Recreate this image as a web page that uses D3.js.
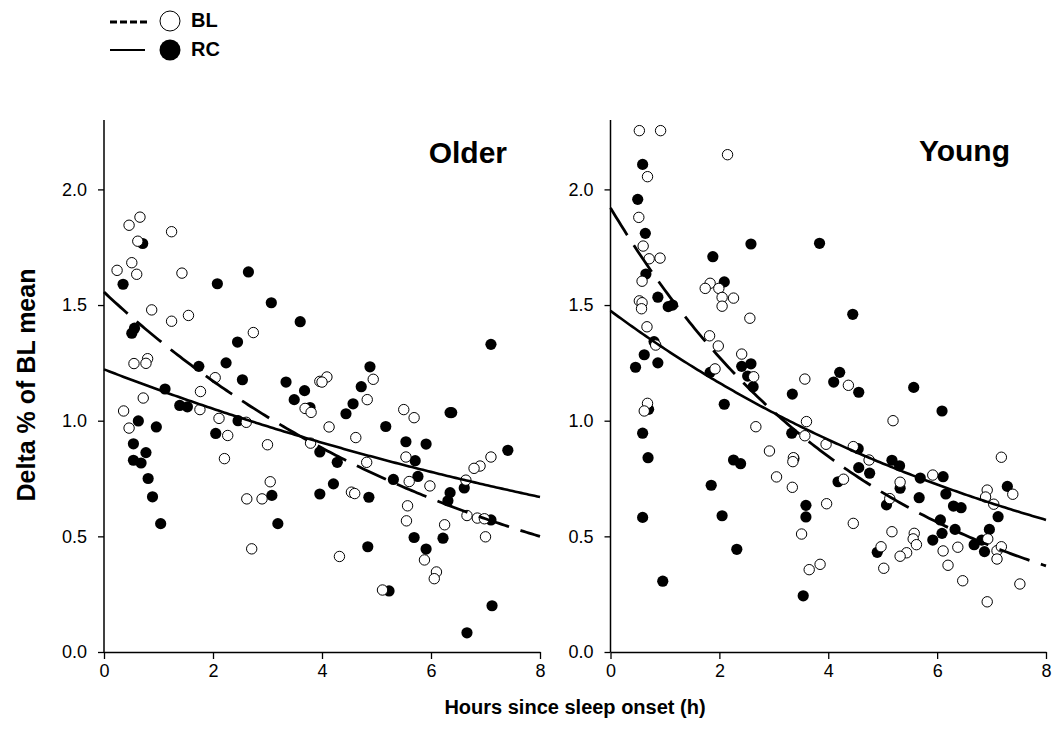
<!DOCTYPE html>
<html>
<head>
<meta charset="utf-8">
<script src="https://cdn.jsdelivr.net/npm/d3@7"></script>
<style>
  html, body { margin: 0; padding: 0; background: #fff; }
  svg { display: block; font-family: Arial, "Liberation Sans", sans-serif; }
</style>
</head>
<body>
<svg id="chart" width="1052" height="753"></svg>
<script>
// ---------- DATA ----------
const xTicks = [0, 2, 4, 6, 8];
const yTicks = [0.0, 0.5, 1.0, 1.5, 2.0];
const panelTitles = ["Older", "Young"];
const seriesNames = ["BL", "RC"];

// Older, baseline (open circles): [hours, delta]
const olderBL = [
  [0.46,1.845],[0.66,1.88],[1.24,1.817],[0.62,1.776],[0.24,1.65],[0.51,1.683],[0.60,1.633],
  [1.43,1.638],[0.875,1.479],[1.24,1.43],[1.55,1.455],[2.74,1.381],[0.55,1.247],[0.80,1.268],
  [0.77,1.248],[2.04,1.186],[0.72,1.098],[1.77,1.126],[0.36,1.042],[1.76,1.048],[2.11,1.01],
  [2.61,0.993],[0.46,0.968],[3.69,1.053],[3.80,1.036],[3.96,1.17],[4.09,1.189],[4.0,1.167],
  [4.94,1.179],[4.83,1.091],[5.50,1.048],[5.69,1.013],[4.13,0.973],[2.27,0.936],[2.21,0.836],
  [3.00,0.896],[3.05,0.736],[2.62,0.662],[2.90,0.662],[2.71,0.446],[3.79,0.903],[4.62,0.927],
  [4.82,0.82],[5.54,0.843],[5.60,0.737],[5.98,0.718],[4.54,0.691],[4.60,0.685],[5.57,0.632],
  [5.55,0.567],[6.25,0.55],[7.10,0.843],[6.90,0.804],[6.79,0.794],[6.64,0.743],[6.66,0.59],
  [6.85,0.579],[6.98,0.576],[7.0,0.498],[4.32,0.413],[5.88,0.398],[6.10,0.346],[6.06,0.317],
  [5.11,0.268]
];
// Older, recovery (filled circles)
const olderRC = [
  [0.71,1.766],[0.35,1.59],[2.08,1.592],[2.65,1.643],[3.07,1.51],[3.60,1.428],[0.56,1.40],
  [0.51,1.378],[2.45,1.34],[1.74,1.235],[2.24,1.25],[2.54,1.177],[3.34,1.167],[3.68,1.13],
  [3.49,1.091],[1.12,1.137],[1.39,1.066],[1.53,1.06],[2.46,1.0],[0.63,0.999],[0.96,0.973],
  [2.05,0.945],[3.78,1.057],[7.10,1.33],[4.88,1.233],[4.72,1.147],[4.57,1.073],[4.44,1.03],
  [5.17,0.975],[6.35,1.035],[6.38,1.035],[0.54,0.90],[0.77,0.862],[0.54,0.829],[0.68,0.817],
  [0.81,0.75],[0.89,0.671],[1.04,0.555],[3.08,0.677],[3.19,0.555],[3.96,0.865],[3.96,0.683],
  [5.54,0.909],[5.91,0.899],[7.41,0.872],[4.28,0.82],[5.71,0.827],[5.76,0.759],[5.31,0.746],
  [4.21,0.727],[4.86,0.669],[6.35,0.689],[6.31,0.654],[6.61,0.709],[7.10,0.571],[5.69,0.495],
  [6.22,0.492],[5.91,0.445],[4.84,0.455],[5.23,0.264],[7.12,0.20],[6.66,0.083]
];
// Young, baseline (open circles)
const youngBL = [
  [0.53,2.254],[0.92,2.254],[2.15,2.15],[0.68,2.055],[0.52,1.879],[0.60,1.755],[0.71,1.70],
  [0.91,1.703],[0.58,1.603],[0.53,1.518],[0.58,1.51],[0.57,1.484],[1.83,1.594],[1.74,1.572],
  [1.99,1.572],[2.05,1.533],[2.26,1.53],[2.05,1.495],[2.56,1.443],[0.67,1.406],[0.83,1.327],
  [1.82,1.367],[1.98,1.323],[2.41,1.288],[1.92,1.224],[2.63,1.19],[3.57,1.18],[0.68,1.075],
  [0.62,1.042],[2.67,0.974],[3.60,0.996],[3.57,0.935],[2.92,0.869],[3.36,0.84],[3.35,0.823],
  [3.05,0.757],[3.34,0.712],[3.51,0.51],[3.65,0.356],[3.85,0.379],[4.37,1.153],[3.96,0.898],
  [4.46,0.888],[4.75,0.83],[5.19,1.0],[4.28,0.747],[5.32,0.734],[5.13,0.663],[5.92,0.765],
  [3.97,0.641],[4.46,0.556],[5.17,0.52],[5.58,0.513],[5.56,0.489],[5.62,0.464],[5.44,0.429],
  [5.32,0.414],[4.97,0.455],[5.02,0.362],[7.18,0.842],[7.39,0.682],[6.92,0.70],[6.89,0.67],
  [7.04,0.639],[6.11,0.437],[6.38,0.453],[6.20,0.375],[6.47,0.308],[6.93,0.489],[7.10,0.438],
  [7.18,0.455],[7.10,0.402],[7.52,0.294],[6.92,0.217]
];
// Young, recovery (filled circles)
const youngRC = [
  [0.59,2.108],[0.50,1.957],[0.64,1.81],[2.58,1.764],[3.84,1.767],[1.88,1.709],[0.65,1.634],
  [2.09,1.60],[0.87,1.534],[1.06,1.493],[1.14,1.50],[4.45,1.46],[0.80,1.342],[0.62,1.285],
  [0.46,1.231],[0.87,1.25],[1.83,1.209],[2.41,1.235],[2.58,1.246],[2.52,1.193],[2.62,1.147],
  [3.34,1.115],[2.09,1.071],[0.70,1.049],[0.59,0.946],[3.33,0.946],[0.69,0.84],[2.26,0.83],
  [2.39,0.814],[3.37,0.837],[1.85,0.721],[3.59,0.634],[3.59,0.584],[0.59,0.582],[2.05,0.589],
  [2.32,0.444],[0.96,0.306],[3.54,0.243],[4.21,1.209],[4.10,1.167],[4.56,1.123],[5.57,1.144],
  [6.09,1.042],[4.55,0.879],[4.56,0.797],[4.76,0.773],[5.17,0.829],[5.31,0.805],[4.18,0.736],
  [5.32,0.708],[5.69,0.752],[6.11,0.758],[6.16,0.683],[5.67,0.667],[5.07,0.636],[6.30,0.631],
  [6.44,0.624],[7.29,0.716],[7.12,0.585],[6.06,0.571],[6.33,0.53],[6.09,0.513],[5.92,0.484],
  [6.96,0.53],[6.82,0.484],[6.68,0.464],[6.87,0.434],[4.90,0.431]
];
// Exponential decay fits y = a * exp(-b * x): [a, b]
const olderBLFit = [1.556, 0.142];
const olderRCFit = [1.222, 0.0751];
const youngBLFit = [1.92, 0.205];
const youngRCFit = [1.475, 0.1186];

// ---------- DRAW ----------
const svg = d3.select("#chart");
const font = 'Arial, "Liberation Sans", sans-serif';

const yScale = d3.scaleLinear().domain([0, 2.3]).range([652, 120]);
const panels = [
  { title: panelTitles[0], bl: olderBL, rc: olderRC, blFit: olderBLFit, rcFit: olderRCFit,
    x: d3.scaleLinear().domain([0, 8]).range([104, 540]), titleX: 507, titleY: 163 },
  { title: panelTitles[1], bl: youngBL, rc: youngRC, blFit: youngBLFit, rcFit: youngRCFit,
    x: d3.scaleLinear().domain([0, 8]).range([610.5, 1046]), titleX: 1010, titleY: 161 }
];

panels.forEach(p => {
  const g = svg.append("g");
  const xAxis = d3.axisBottom(p.x).tickValues(xTicks).tickFormat(d3.format("d"))
    .tickSizeInner(7).tickSizeOuter(0).tickPadding(5);
  const yAxis = d3.axisLeft(yScale).tickValues(yTicks).tickFormat(d3.format(".1f"))
    .tickSizeInner(6).tickSizeOuter(0).tickPadding(11);

  const gx = g.append("g").attr("transform", "translate(0,652)").call(xAxis);
  const gy = g.append("g").attr("transform", `translate(${p.x(0)},0)`).call(yAxis);
  [gx, gy].forEach(a => {
    a.select(".domain").attr("stroke", "#000").attr("stroke-width", 1.5);
    a.selectAll(".tick line").attr("stroke", "#000").attr("stroke-width", 1.3);
    a.selectAll(".tick text").attr("fill", "#000").style("font-size", "18px").style("font-family", font);
  });
  gy.select(".domain").attr("d", `M0,${yScale(2.3)}V${yScale(0)}`);

  // filled first, then open on top
  g.append("g").selectAll("circle").data(p.rc).join("circle")
    .attr("cx", d => p.x(d[0])).attr("cy", d => yScale(d[1]))
    .attr("r", 5.6).attr("fill", "#000");
  g.append("g").selectAll("circle").data(p.bl).join("circle")
    .attr("cx", d => p.x(d[0])).attr("cy", d => yScale(d[1]))
    .attr("r", 5.2).attr("fill", "#fff").attr("stroke", "#000").attr("stroke-width", 1);

  const xs = d3.range(0, 8.001, 0.05);
  const line = d3.line().x(d => p.x(d[0])).y(d => yScale(d[1]));
  const curve = f => xs.map(x => [x, f[0] * Math.exp(-f[1] * x)]);
  g.append("path").datum(curve(p.rcFit)).attr("d", line)
    .attr("fill", "none").attr("stroke", "#000").attr("stroke-width", 2.6);
  g.append("path").datum(curve(p.blFit)).attr("d", line)
    .attr("fill", "none").attr("stroke", "#000").attr("stroke-width", 2.8)
    .attr("stroke-dasharray", "32,12");

  g.append("text").attr("x", p.titleX).attr("y", p.titleY).attr("text-anchor", "end")
    .style("font-family", font).style("font-weight", "bold").style("font-size", "30px")
    .text(p.title);
});

// axis titles
svg.append("text").attr("x", 575).attr("y", 714).attr("text-anchor", "middle")
  .style("font-family", font).style("font-weight", "bold").style("font-size", "20px")
  .text("Hours since sleep onset (h)");
svg.append("text").attr("transform", "translate(35,385) rotate(-90)").attr("text-anchor", "middle")
  .style("font-family", font).style("font-weight", "bold").style("font-size", "25px")
  .text("Delta % of BL mean");

// legend
const leg = svg.append("g");
leg.append("line").attr("x1", 110).attr("x2", 148).attr("y1", 22).attr("y2", 22)
  .attr("stroke", "#000").attr("stroke-width", 3).attr("stroke-dasharray", "7,3");
leg.append("circle").attr("cx", 170).attr("cy", 21).attr("r", 10)
  .attr("fill", "#fff").attr("stroke", "#000").attr("stroke-width", 1);
leg.append("text").attr("x", 191).attr("y", 27).text(seriesNames[0])
  .style("font-family", font).style("font-weight", "bold").style("font-size", "20px");
leg.append("line").attr("x1", 110).attr("x2", 145).attr("y1", 50).attr("y2", 50)
  .attr("stroke", "#000").attr("stroke-width", 2);
leg.append("circle").attr("cx", 170).attr("cy", 50).attr("r", 10.5).attr("fill", "#000");
leg.append("text").attr("x", 191).attr("y", 56).text(seriesNames[1])
  .style("font-family", font).style("font-weight", "bold").style("font-size", "20px");
</script>
</body>
</html>
